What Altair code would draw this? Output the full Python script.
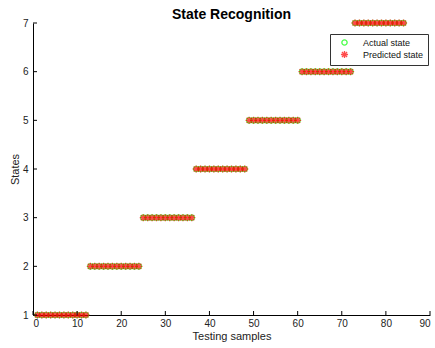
import altair as alt
import pandas as pd

samples = list(range(1, 85))
actual_state = [1]*12 + [2]*12 + [3]*12 + [4]*12 + [5]*12 + [6]*12 + [7]*12
predicted_state = [1]*12 + [2]*12 + [3]*12 + [4]*12 + [5]*12 + [6]*12 + [7]*12
series_names = ["Actual state", "Predicted state"]
x_ticks = [0, 10, 20, 30, 40, 50, 60, 70, 80, 90]
y_ticks = [1, 2, 3, 4, 5, 6, 7]

df = pd.DataFrame({
    "sample": samples + samples,
    "state": actual_state + predicted_state,
    "series": [series_names[0]] * len(samples) + [series_names[1]] * len(samples),
})

FONT = "Liberation Sans"
W, H = 397, 292
asterisk = "M-1,0L1,0M0,-1L0,1M-0.72,-0.72L0.72,0.72M-0.72,0.72L0.72,-0.72"

xscale = alt.Scale(domain=[0, 90], nice=False, zero=False)
yscale = alt.Scale(domain=[1, 7], nice=False, zero=False)

points = alt.Chart(df).mark_point(filled=False, strokeWidth=1.3, clip=False).encode(
    x=alt.X("sample:Q", scale=xscale, title="Testing samples",
            axis=alt.Axis(values=x_ticks, tickSize=0, grid=False, labelPadding=3,
                          domainColor="black", labelColor="#222", titleColor="#222",
                          labelFont=FONT, titleFont=FONT, labelFontSize=10,
                          titleFontSize=11, titleFontWeight="normal", titlePadding=2)),
    y=alt.Y("state:Q", scale=yscale, title="States",
            axis=alt.Axis(values=y_ticks, tickSize=0, grid=False, labelPadding=5,
                          domainColor="black", labelColor="#222", titleColor="#222",
                          labelFont=FONT, titleFont=FONT, labelFontSize=10,
                          titleFontSize=11, titleFontWeight="normal", titlePadding=2)),
    color=alt.Color("series:N", title=None,
                    scale=alt.Scale(domain=series_names, range=["#00ff00", "#ff0000"]),
                    legend=alt.Legend(orient="none", legendX=297, legendY=11,
                                      strokeColor="#333", fillColor="white", padding=4,
                                      labelFont=FONT, labelFontSize=9, labelColor="#111",
                                      symbolStrokeWidth=1.3, rowPadding=0,
                                      labelOffset=14, symbolOffset=6)),
    shape=alt.Shape("series:N", title=None,
                    scale=alt.Scale(domain=series_names, range=["circle", asterisk])),
    size=alt.Size("series:N", title=None,
                  scale=alt.Scale(domain=series_names, range=[28, 50])),
)

xt = pd.DataFrame({"t": x_ticks})
xtick_marks = alt.Chart(xt).mark_rule(color="black", strokeWidth=1).encode(
    x=alt.X("t:Q", scale=xscale),
    y=alt.value(H),
    y2=alt.value(H - 4),
)
yt = pd.DataFrame({"t": y_ticks})
ytick_marks = alt.Chart(yt).mark_rule(color="black", strokeWidth=1).encode(
    y=alt.Y("t:Q", scale=yscale),
    x=alt.value(0),
    x2=alt.value(4),
)

chart = alt.layer(points, xtick_marks, ytick_marks).properties(
    width=W, height=H,
    title=alt.Title("State Recognition", font=FONT, fontSize=14, fontWeight="bold",
                    color="black", anchor="middle", offset=-5),
    autosize=alt.AutoSizeParams(type="none"),
    padding={"left": 33, "top": 23, "right": 5, "bottom": 33},
    background="white",
).configure_view(stroke=None)

chart.save("out.html", embed_options={"renderer": "svg", "actions": False})
